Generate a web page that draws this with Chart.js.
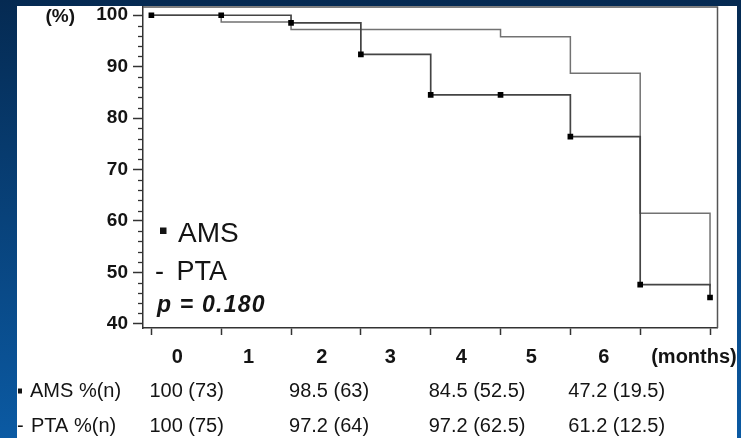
<!DOCTYPE html>
<html>
<head>
<meta charset="utf-8">
<script src="https://cdn.jsdelivr.net/npm/chart.js@4/dist/chart.umd.min.js"></script>
<style>
  html, body { margin: 0; padding: 0; }
  body { width: 741px; height: 438px; overflow: hidden; position: relative;
         background: linear-gradient(#052a52, #0b5aa3); }
  #sheet { position: absolute; left: 17px; top: 6px; width: 720px; height: 432px; background: #fff; }
  #wrap { position: absolute; left: 0; top: 0; width: 741px; height: 438px; }
</style>
</head>
<body>
<div id="sheet"></div>
<div id="wrap"><canvas id="km"></canvas></div>
<script>
// time points (tick positions) and survival
const timePoints = [0, 1, 2, 3, 4, 5, 6, 7, 8];
const amsSurv = [100, 100, 98.5, 92.4, 84.5, 84.5, 76.4, 47.6, 45.1];
const ptaSurv = [100, 98.7, 97.2, 97.2, 97.2, 95.8, 88.7, 61.5, 47.3];
const yTicks = [40, 50, 60, 70, 80, 90, 100];

// x labels sit between the ticks in the original
const monthLabels = ["0", "1", "2", "3", "4", "5", "6", "(months)"];
const monthLabelAt = [0.37, 1.39, 2.44, 3.42, 4.44, 5.44, 6.48, 7.77];

// table under the chart
const tableCols = [0, 2, 4, 6];
const amsRow = ["100 (73)", "98.5 (63)", "84.5 (52.5)", "47.2 (19.5)"];
const ptaRow = ["100 (75)", "97.2 (64)", "97.2 (62.5)", "61.2 (12.5)"];

const FONT = "'Liberation Sans', Arial, sans-serif";
const INK = "#141414";

// frame, minor ticks, legend text and table
const extras = {
  id: "extras",
  afterDraw(chart) {
    const ctx = chart.ctx;
    const a = chart.chartArea;
    const xs = chart.scales.x, ys = chart.scales.y;
    ctx.save();
    ctx.beginPath();
    ctx.rect(17, 6, 720, 432);
    ctx.clip();

    // top + right frame
    ctx.strokeStyle = "#555";
    ctx.lineWidth = 1.5;
    ctx.beginPath();
    ctx.moveTo(a.left, a.top);
    ctx.lineTo(a.right, a.top);
    ctx.lineTo(a.right, a.bottom);
    ctx.stroke();

    // minor y ticks every 2
    ctx.strokeStyle = "#333";
    ctx.lineWidth = 1.3;
    for (let v = 42; v < 100; v += 2) {
      if (v % 10 === 0) continue;
      const py = Math.round(ys.getPixelForValue(v)) + 0.5;
      ctx.beginPath();
      ctx.moveTo(a.left - 5, py);
      ctx.lineTo(a.left, py);
      ctx.stroke();
    }

    ctx.fillStyle = INK;
    ctx.textBaseline = "alphabetic";

    // (%) unit
    ctx.font = "bold 19px " + FONT;
    ctx.textAlign = "right";
    ctx.fillText("(%)", 75, ys.getPixelForValue(100) + 7);

    // month labels
    ctx.font = "bold 20px " + FONT;
    ctx.textAlign = "center";
    monthLabels.forEach((t, i) => {
      ctx.fillText(t, xs.getPixelForValue(monthLabelAt[i]), 363);
    });

    // legend inside the plot
    ctx.textAlign = "left";
    ctx.font = "28px " + FONT;
    ctx.fillRect(a.left + 17, 227.5, 6.5, 6.5);
    ctx.fillText("AMS", a.left + 35, 241.5);
    ctx.font = "27px " + FONT;
    ctx.fillText("-", a.left + 12, 280);
    ctx.fillText("PTA", a.left + 33.5, 280);
    ctx.font = "italic bold 23px " + FONT;
    ctx.letterSpacing = "1.2px";
    ctx.fillText("p = 0.180", a.left + 14, 311.5);
    ctx.letterSpacing = "0px";

    // table rows
    ctx.font = "20px " + FONT;
    ctx.fillRect(18, 388.5, 4, 5);
    ctx.fillText("AMS %(n)", 30, 397);
    ctx.fillText("-", 17, 432);
    ctx.fillText("PTA %(n)", 31, 432);
    tableCols.forEach((c, i) => {
      const px = xs.getPixelForValue(c) - 2;
      ctx.fillText(amsRow[i], px, 397);
      ctx.fillText(ptaRow[i], px, 432);
    });
    ctx.restore();
  }
};

new Chart(document.getElementById("km"), {
  type: "line",
  data: {
    datasets: [
      {
        label: "AMS",
        data: timePoints.map((t, i) => ({ x: t, y: amsSurv[i] })),
        stepped: true,
        borderColor: "#444",
        borderWidth: 1.7,
        pointStyle: "rect",
        pointRadius: 4,
        pointBackgroundColor: "#000",
        pointBorderWidth: 0
      },
      {
        label: "PTA",
        data: timePoints.map((t, i) => ({ x: t, y: ptaSurv[i] })),
        stepped: true,
        borderColor: "#727272",
        borderWidth: 1.5,
        pointRadius: 0
      }
    ]
  },
  options: {
    responsive: true,
    maintainAspectRatio: false,
    animation: false,
    layout: { padding: { top: 7, right: 23.5, left: 0, bottom: 0 } },
    plugins: { legend: { display: false }, tooltip: { enabled: false } },
    scales: {
      x: {
        type: "linear",
        min: -0.12,
        max: 8.107,
        afterBuildTicks: (s) => { s.ticks = timePoints.map((v) => ({ value: v })); },
        afterFit: (s) => { s.height = 110; s.paddingLeft = 0; s.paddingRight = 0; },
        ticks: { display: false },
        grid: { drawOnChartArea: false, tickLength: 7, tickColor: "#333", tickWidth: 1.5 },
        border: { color: "#333", width: 1.5 }
      },
      y: {
        min: 39.16,
        max: 101.6,
        afterBuildTicks: (s) => { s.ticks = yTicks.map((v) => ({ value: v })); },
        afterFit: (s) => { s.width = 143; s.paddingTop = 0; s.paddingBottom = 0; },
        ticks: { color: INK, padding: 5, font: { family: FONT, size: 19, weight: "bold" } },
        grid: { drawOnChartArea: false, tickLength: 10, tickColor: "#333", tickWidth: 1.5 },
        border: { color: "#333", width: 1.5 }
      }
    }
  },
  plugins: [extras]
});
</script>
</body>
</html>
